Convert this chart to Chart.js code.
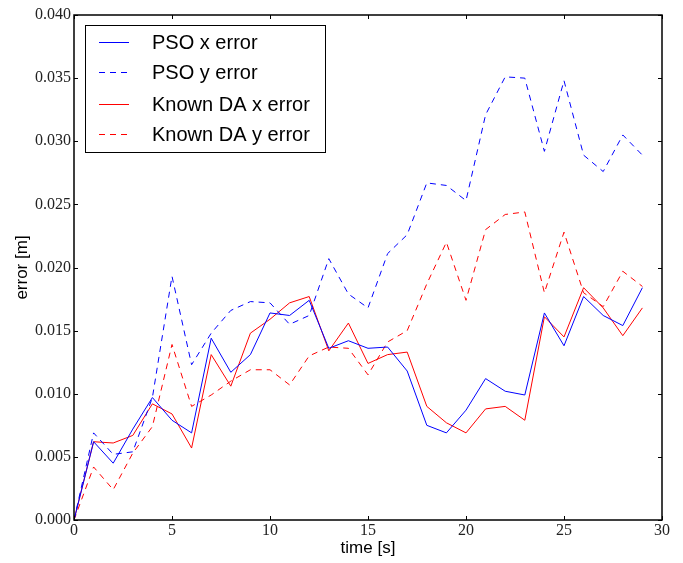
<!DOCTYPE html>
<html>
<head>
<meta charset="utf-8">
<script src="https://cdn.jsdelivr.net/npm/chart.js@4.4.0/dist/chart.umd.min.js"></script>
<style>
  html, body { margin: 0; padding: 0; background: #fff; }
</style>
</head>
<body>
<canvas id="ErrorChart" width="683" height="563"></canvas>
<script>
(function () {
  "use strict";

  // time axis (seconds)
  const timeSteps = [0, 1, 2, 3, 4, 5, 6, 7, 8, 9, 10, 11, 12, 13, 14, 15, 16, 17, 18, 19, 20, 21, 22, 23, 24, 25, 26, 27, 28, 29];

  // error series [m]
  const psoX = [0, 0.0062, 0.0045, 0.0072, 0.0097, 0.0079, 0.0069, 0.0144, 0.0117, 0.0131, 0.0164, 0.0162, 0.0174, 0.0136, 0.0142, 0.0136, 0.0137, 0.0118, 0.0075, 0.0069, 0.0087, 0.0112, 0.0102, 0.0099, 0.0164, 0.0138, 0.0177, 0.0162, 0.0154, 0.0184];
  const psoY = [0, 0.0069, 0.0052, 0.0054, 0.0097, 0.0193, 0.0123, 0.0148, 0.0166, 0.0173, 0.0172, 0.0155, 0.0162, 0.0207, 0.0179, 0.0168, 0.0211, 0.0226, 0.0267, 0.0265, 0.0253, 0.0321, 0.0351, 0.0350, 0.0292, 0.0348, 0.0289, 0.0276, 0.0305, 0.0289];
  const daX = [0, 0.0062, 0.0061, 0.0067, 0.0092, 0.0084, 0.0057, 0.0131, 0.0106, 0.0148, 0.0159, 0.0172, 0.0177, 0.0134, 0.0156, 0.0124, 0.0131, 0.0133, 0.0090, 0.0077, 0.0069, 0.0088, 0.0090, 0.0079, 0.0161, 0.0145, 0.0184, 0.0168, 0.0146, 0.0168];
  const daY = [0, 0.0042, 0.0024, 0.0053, 0.0074, 0.0139, 0.0090, 0.0099, 0.0110, 0.0119, 0.0119, 0.0107, 0.0130, 0.0137, 0.0136, 0.0115, 0.0141, 0.0150, 0.0187, 0.0220, 0.0174, 0.0230, 0.0242, 0.0244, 0.0180, 0.0228, 0.0180, 0.0169, 0.0197, 0.0185];

  const seriesLabels = ['PSO x error', 'PSO y error', 'Known DA x error', 'Known DA y error'];

  const blue = '#0000ff';
  const red = '#ff0000';
  const seriesColors = [blue, blue, red, red];
  const seriesDashed = [false, true, false, true];
  const dash = [6, 5];

  const toPoints = function (vals) {
    return timeSteps.map(function (t, i) { return { x: t, y: vals[i] }; });
  };

  const lineSet = function (label, vals, color, dashed) {
    return {
      label: label,
      data: toPoints(vals),
      borderColor: color,
      backgroundColor: color,
      borderWidth: 1,
      borderDash: dashed ? dash : [],
      tension: 0,
      pointRadius: 0,
      fill: false
    };
  };

  // frame + inward ticks on all four sides (classic matplotlib look)
  const framePlugin = {
    id: 'frame',
    afterDatasetsDraw: function (chart) {
      const ctx = chart.ctx;
      const a = chart.chartArea;
      const xs = chart.scales.x;
      const ys = chart.scales.y;
      const tl = 4;
      ctx.save();
      ctx.setLineDash([]);
      ctx.strokeStyle = '#000';
      ctx.lineWidth = 1;
      ctx.beginPath();
      xs.ticks.forEach(function (t) {
        const px = Math.round(xs.getPixelForValue(t.value)) + 0.5;
        ctx.moveTo(px, a.bottom); ctx.lineTo(px, a.bottom - tl);
        ctx.moveTo(px, a.top); ctx.lineTo(px, a.top + tl);
      });
      ys.ticks.forEach(function (t) {
        const py = Math.round(ys.getPixelForValue(t.value)) + 0.5;
        ctx.moveTo(a.left, py); ctx.lineTo(a.left + tl, py);
        ctx.moveTo(a.right, py); ctx.lineTo(a.right - tl, py);
      });
      ctx.stroke();
      ctx.lineWidth = 1.5;
      ctx.strokeRect(a.left, a.top, a.right - a.left, a.bottom - a.top);
      ctx.restore();
    }
  };

  // boxed legend in the upper left of the plot
  const legendPlugin = {
    id: 'boxLegend',
    afterDraw: function (chart) {
      const ctx = chart.ctx;
      const a = chart.chartArea;
      const x0 = a.left + 11, y0 = a.top + 10, w = 240, h = 127;
      ctx.save();
      ctx.setLineDash([]);
      ctx.fillStyle = '#fff';
      ctx.fillRect(x0, y0, w, h);
      ctx.strokeStyle = '#000';
      ctx.lineWidth = 1;
      ctx.strokeRect(x0 + 0.5, y0 + 0.5, w, h);
      ctx.font = '20px "Liberation Sans", Arial, sans-serif';
      ctx.textBaseline = 'middle';
      for (let i = 0; i < seriesLabels.length; i++) {
        // keep the sample lines on even pixel rows
        const cy = 2 * Math.round((y0 + 17 + i * 30.5) / 2);
        const sx = x0 + 14, ex = x0 + 44;
        ctx.fillStyle = seriesColors[i];
        if (seriesDashed[i]) {
          for (let p = sx; p < ex; p += dash[0] + dash[1]) {
            ctx.fillRect(p, cy, Math.min(dash[0], ex - p), 1);
          }
        } else {
          ctx.fillRect(sx, cy, ex - sx, 1);
        }
        ctx.fillStyle = '#000';
        ctx.fillText(seriesLabels[i], x0 + 67, cy + 1);
      }
      ctx.restore();
    }
  };

  const serifTicks = { family: '"Liberation Serif", "Times New Roman", serif', size: 16 };
  const sansTitle = { family: '"Liberation Sans", Arial, sans-serif', size: 17 };

  new Chart(document.getElementById('ErrorChart').getContext('2d'), {
    type: 'line',
    data: {
      datasets: [
        lineSet(seriesLabels[0], psoX, seriesColors[0], seriesDashed[0]),
        lineSet(seriesLabels[1], psoY, seriesColors[1], seriesDashed[1]),
        lineSet(seriesLabels[2], daX, seriesColors[2], seriesDashed[2]),
        lineSet(seriesLabels[3], daY, seriesColors[3], seriesDashed[3])
      ]
    },
    options: {
      responsive: false,
      animation: false,
      layout: { padding: { top: 15, right: 21, left: 0, bottom: 0 } },
      scales: {
        x: {
          type: 'linear',
          min: 0,
          max: 30,
          ticks: { stepSize: 5, color: '#222', font: serifTicks, padding: 1, maxRotation: 0 },
          grid: { display: false, drawTicks: false },
          border: { display: false },
          title: { display: true, text: 'time [s]', color: '#000', font: sansTitle, padding: { top: 0, bottom: 4 } },
          afterFit: function (s) { s.height = 43; }
        },
        y: {
          min: 0,
          max: 0.04,
          ticks: {
            stepSize: 0.005,
            color: '#222',
            font: serifTicks,
            padding: 3,
            callback: function (v) { return v.toFixed(3); }
          },
          grid: { display: false, drawTicks: false },
          border: { display: false },
          title: { display: true, text: 'error [m]', color: '#000', font: sansTitle, padding: { top: 12, bottom: 0 } },
          afterFit: function (s) { s.width = 74; }
        }
      },
      plugins: {
        legend: { display: false },
        tooltip: { enabled: false }
      }
    },
    plugins: [framePlugin, legendPlugin]
  });
})();
</script>
</body>
</html>
